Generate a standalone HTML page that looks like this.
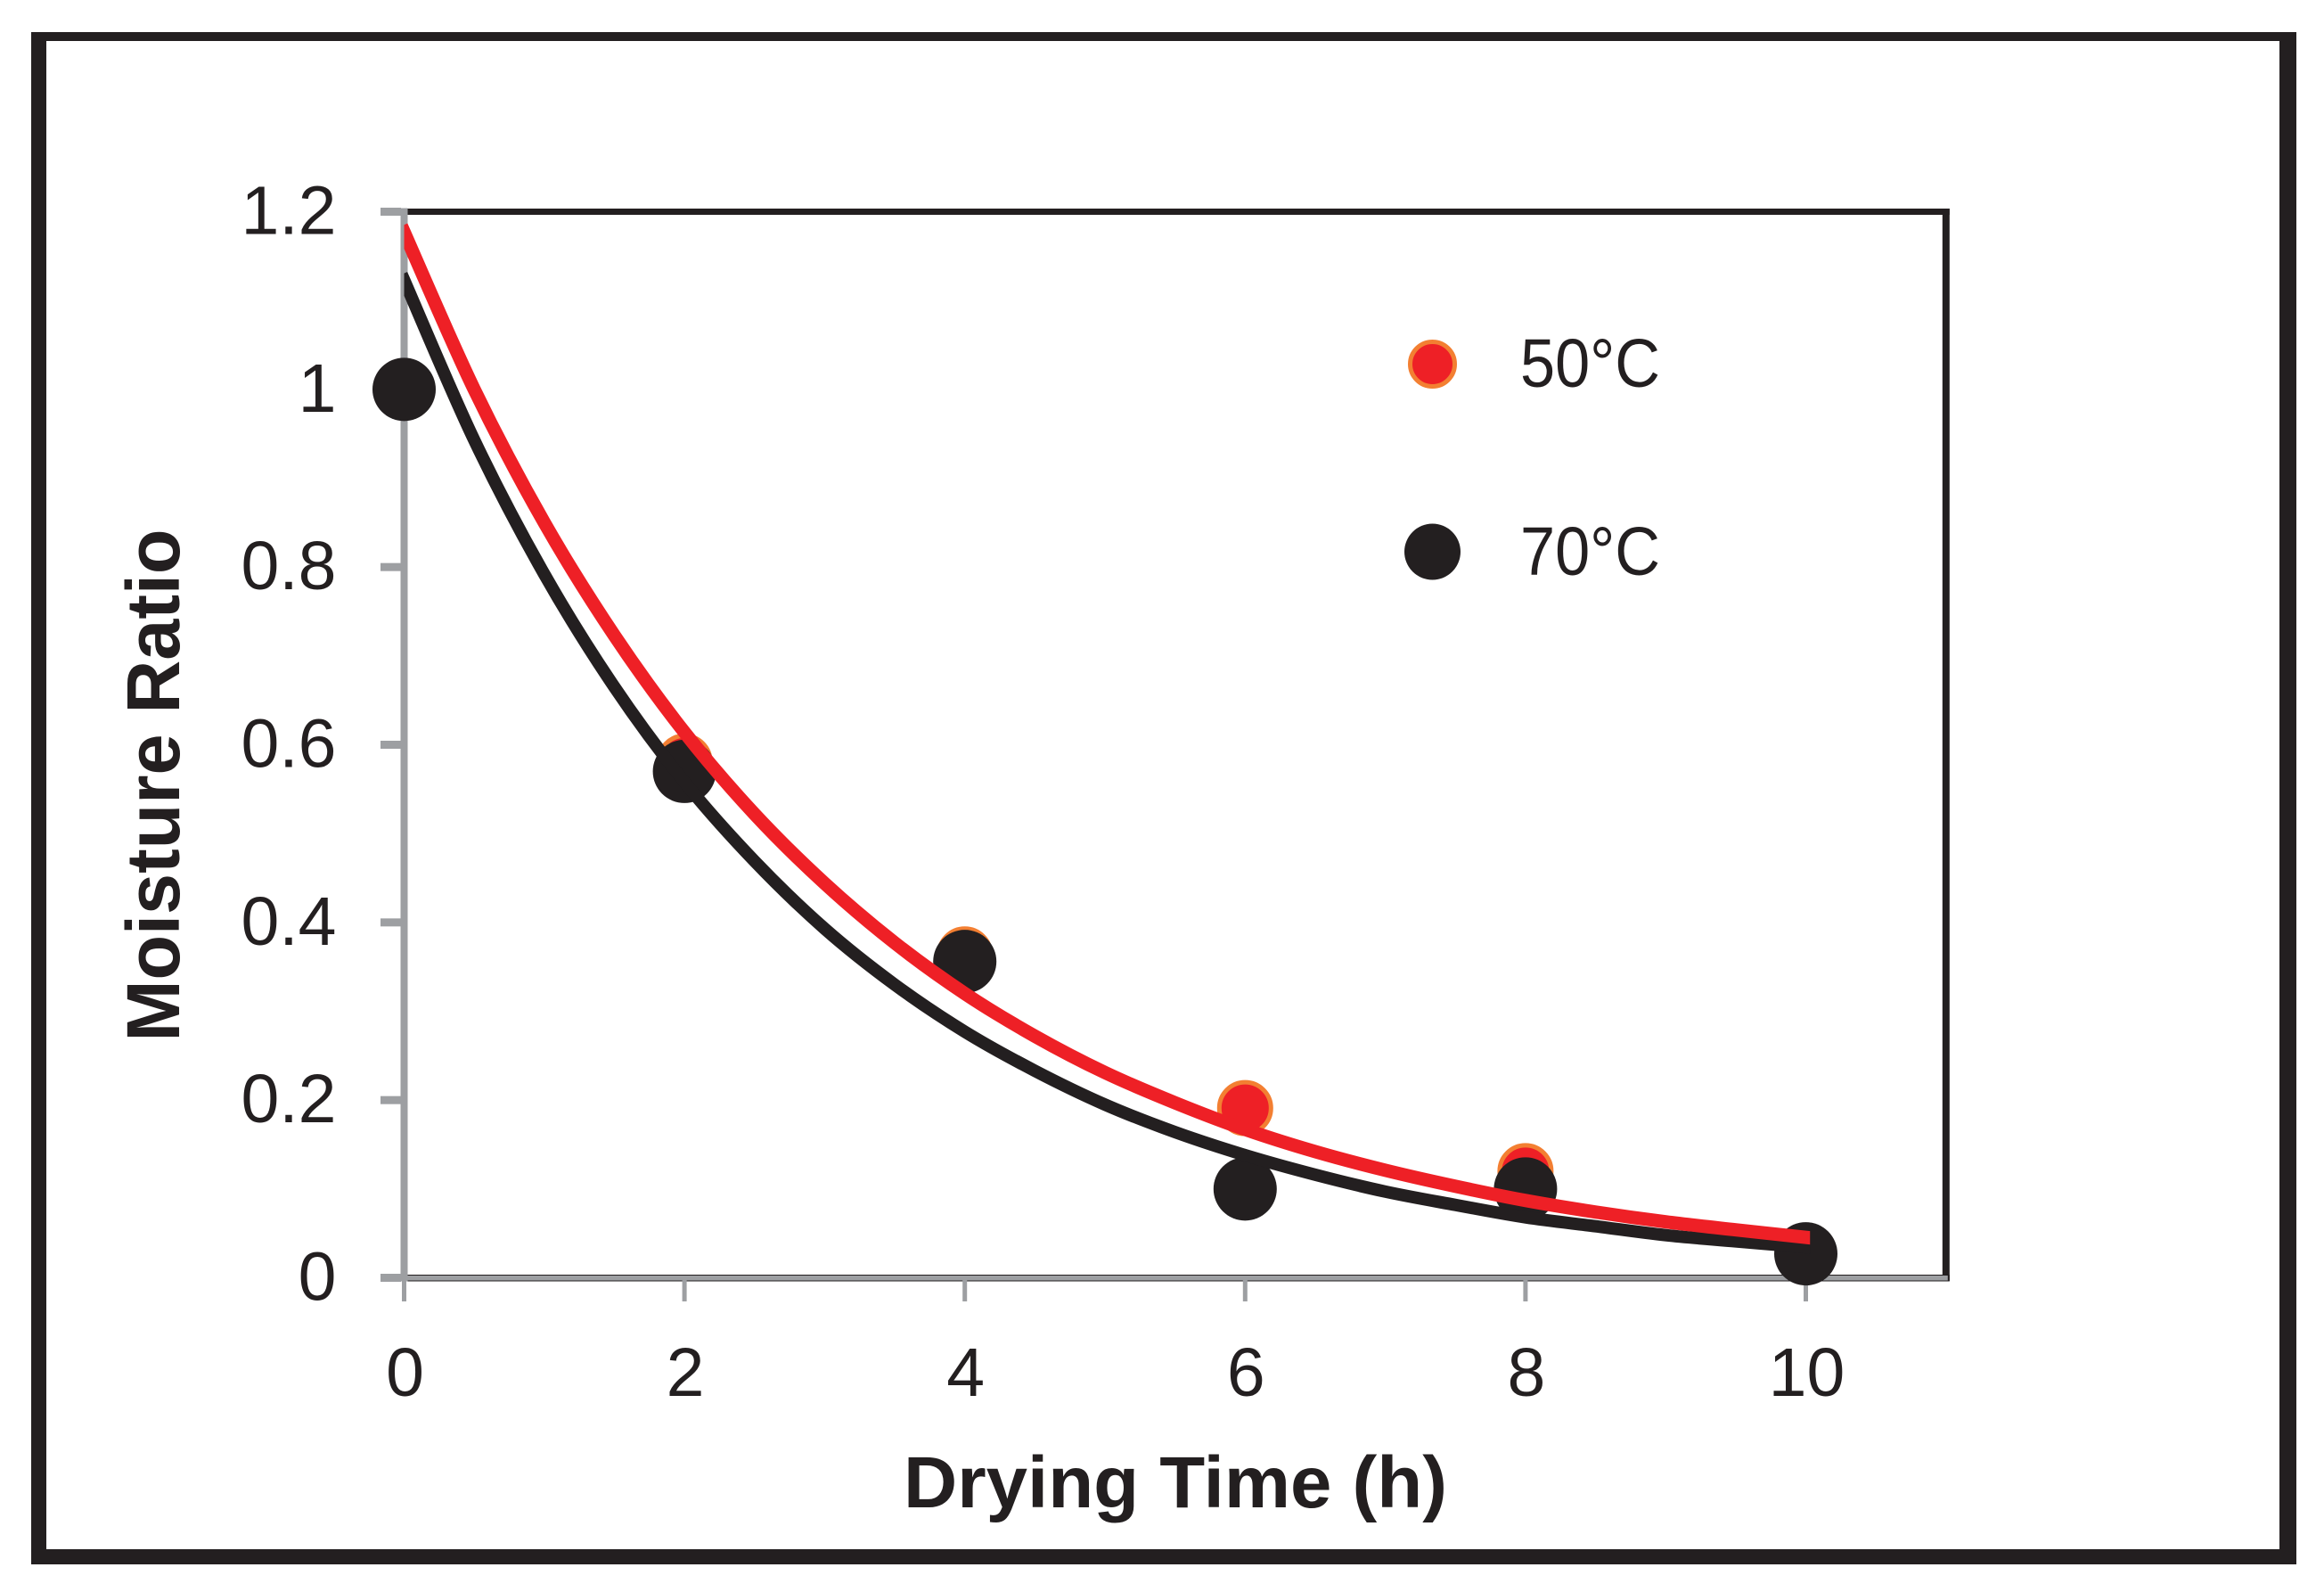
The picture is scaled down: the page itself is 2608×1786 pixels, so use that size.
<!DOCTYPE html>
<html lang="en">
<head>
<meta charset="utf-8">
<title>Moisture Ratio vs Drying Time</title>
<style>
html,body{margin:0;padding:0;background:#fff;}
svg{display:block;}
text{font-family:"Liberation Sans",sans-serif;fill:#231f20;}
</style>
</head>
<body>
<svg id="chart" xmlns="http://www.w3.org/2000/svg" width="2608" height="1786" viewBox="0 0 2608 1786">
  <rect x="0" y="0" width="2608" height="1786" fill="#ffffff"/>
  <g fill="#231f20">
    <rect x="35" y="36" width="2542" height="10"/>
    <rect x="35" y="36" width="17" height="1719"/>
    <rect x="2558" y="36" width="19" height="1719"/>
    <rect x="35" y="1738" width="2542" height="17" rx="3"/>
  </g>
  <g id="axes"></g>
  <g id="marks"></g>
  <g id="legend">
    <circle cx="1607.5" cy="408.5" r="25" fill="#ee2026" stroke="#f37f32" stroke-width="5"/>
    <text x="1706" y="434" font-size="77" textLength="157" lengthAdjust="spacingAndGlyphs">50°C</text>
    <circle cx="1607.5" cy="619" r="31.5" fill="#231f20"/>
    <text x="1706" y="645" font-size="77" textLength="157" lengthAdjust="spacingAndGlyphs">70°C</text>
  </g>
  <text x="1319" y="1691" font-size="82" font-weight="bold" text-anchor="middle" textLength="610" lengthAdjust="spacingAndGlyphs">Drying Time (h)</text>
  <text transform="translate(201,881) rotate(-90)" font-size="84" font-weight="bold" text-anchor="middle" textLength="575" lengthAdjust="spacingAndGlyphs">Moisture Ratio</text>
</svg>
<script>
// Chart data
const xTicks = [0, 2, 4, 6, 8, 10];
const xTickLabels = ['0', '2', '4', '6', '8', '10'];
const yTicks = [0, 0.2, 0.4, 0.6, 0.8, 1, 1.2];
const yTickLabels = ['0', '0.2', '0.4', '0.6', '0.8', '1', '1.2'];
const dryingTimes = [0, 2, 4, 6, 8, 10];
const moisture50 = [1, 0.581, 0.364, 0.191, 0.12, 0.027];
const moisture70 = [1, 0.57, 0.356, 0.1, 0.1, 0.027];
const curveTimes = [0, 0.5, 1, 1.5, 2, 2.5, 3, 3.5, 4, 4.5, 5, 5.5, 6, 6.5, 7, 7.5, 8, 8.5, 9, 9.5, 10.03];
const curve50 = [1.177, 1.0, 0.85, 0.723, 0.614, 0.522, 0.444, 0.377, 0.32, 0.272, 0.231, 0.197, 0.167, 0.142, 0.121, 0.103, 0.087, 0.074, 0.063, 0.054, 0.045];
const curve70 = [1.123, 0.943, 0.792, 0.665, 0.558, 0.469, 0.393, 0.33, 0.277, 0.233, 0.195, 0.164, 0.138, 0.116, 0.097, 0.082, 0.068, 0.058, 0.048, 0.041, 0.034];

// Axis functions
const x0 = 453.5, xUnit = 157.3, xMax = 11;
const y0 = 1433.5, yUnit = 996.67, yMax = 1.2;
function xScale(v) { return x0 + v * xUnit; }
function yScale(v) { return y0 - v * yUnit; }

const NS = 'http://www.w3.org/2000/svg';
const axes = document.getElementById('axes');
const marks = document.getElementById('marks');
const GRAY = '#9d9fa2', INK = '#231f20', RED = '#ee2026', ORANGE = '#f37f32';

function make(tag, attrs, parent) {
  const el = document.createElementNS(NS, tag);
  for (const k in attrs) el.setAttribute(k, attrs[k]);
  parent.appendChild(el);
  return el;
}

function smoothPath(xs, ys) {
  const pts = xs.map((t, i) => [xScale(t), yScale(ys[i])]);
  let d = 'M' + pts[0][0].toFixed(2) + ' ' + pts[0][1].toFixed(2);
  for (let i = 0; i < pts.length - 1; i++) {
    const p0 = pts[Math.max(i - 1, 0)], p1 = pts[i], p2 = pts[i + 1], p3 = pts[Math.min(i + 2, pts.length - 1)];
    const c1x = p1[0] + (p2[0] - p0[0]) / 6, c1y = p1[1] + (p2[1] - p0[1]) / 6;
    const c2x = p2[0] - (p3[0] - p1[0]) / 6, c2y = p2[1] - (p3[1] - p1[1]) / 6;
    d += 'C' + c1x.toFixed(2) + ' ' + c1y.toFixed(2) + ' ' + c2x.toFixed(2) + ' ' + c2y.toFixed(2) + ' ' + p2[0].toFixed(2) + ' ' + p2[1].toFixed(2);
  }
  return d;
}

// Plot box (black top and right edges, black outline around the x axis)
const topEdge = make('rect', { x: xScale(0) + 4, y: yScale(yMax) - 3.5, width: xScale(xMax) - xScale(0), height: 7, fill: INK }, axes);



const rightEdge = make('rect', { x: xScale(xMax) - 4, y: yScale(yMax) - 3.5, width: 8, height: yScale(0) - yScale(yMax) + 7, fill: INK }, axes);



const xOutline = make('rect', { x: xScale(0), y: yScale(0) - 3.5, width: xScale(xMax) - xScale(0) + 4, height: 7.5, fill: INK }, axes);



const xLine = make('rect', { x: xScale(0), y: yScale(0) - 2.5, width: xScale(xMax) - xScale(0) + 2, height: 5.5, fill: GRAY }, axes);



// Y axis line
const yLine = make('rect', { x: xScale(0) - 4, y: yScale(yMax) - 4, width: 8, height: yScale(0) - yScale(yMax) + 8, fill: GRAY }, axes);



// X ticks and labels
xTicks.forEach(function (t, i) {
  const tick = make('rect', { x: xScale(t) - 2.5, y: yScale(0) + 3, width: 5, height: 23.5, fill: GRAY }, axes);
  
  
  const label = make('text', { x: xScale(t) + 1, y: 1566, 'font-size': 77, 'text-anchor': 'middle' }, axes);
  
  
  label.textContent = xTickLabels[i];
});

// Y ticks and labels
yTicks.forEach(function (v, i) {
  const tick = make('rect', { x: 427, y: yScale(v) - 4.5, width: 23, height: 9, fill: GRAY }, axes);
  
  
  const label = make('text', { x: 377.5, y: yScale(v) + 25, 'font-size': 77, 'text-anchor': 'end' }, axes);
  
  
  label.textContent = yTickLabels[i];
});

// Clip for the fitted curves (vertical cuts at both ends)
const defs = make('defs', {}, marks);
const clip = make('clipPath', { id: 'curve-clip' }, defs);
make('rect', { x: xScale(curveTimes[0]), y: 0, width: xScale(curveTimes[curveTimes.length - 1]) - xScale(curveTimes[0]), height: 1786 }, clip);

// Points: 50°C underneath 70°C
dryingTimes.forEach(function (t, i) {
  const dot = make('circle', { cx: xScale(t), cy: yScale(moisture50[i]), r: 29, fill: RED, stroke: ORANGE, 'stroke-width': 5 }, marks);
  
  
});
dryingTimes.forEach(function (t, i) {
  const dot = make('circle', { cx: xScale(t), cy: yScale(moisture70[i]), r: 35.5, fill: INK }, marks);
  
  
});

// Fitted curves
const line70 = make('path', { d: smoothPath(curveTimes, curve70), fill: 'none', stroke: INK, 'stroke-width': 14, 'stroke-linecap': 'square', 'clip-path': 'url(#curve-clip)' }, marks);



const line50 = make('path', { d: smoothPath(curveTimes, curve50), fill: 'none', stroke: RED, 'stroke-width': 15, 'stroke-linecap': 'square', 'clip-path': 'url(#curve-clip)' }, marks);


</script>
</body>
</html>
